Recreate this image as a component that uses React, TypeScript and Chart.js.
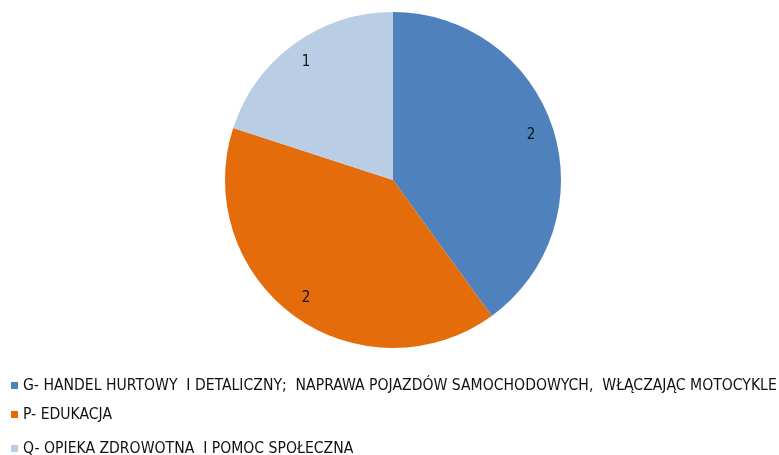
import React, { useEffect, useRef } from "react";
import { Chart, registerables } from "chart.js";

Chart.register(...registerables);

const categories = [
  "G- HANDEL HURTOWY  I DETALICZNY;  NAPRAWA POJAZDÓW SAMOCHODOWYCH,  WŁĄCZAJĄC MOTOCYKLE",
  "P- EDUKACJA",
  "Q- OPIEKA ZDROWOTNA  I POMOC SPOŁECZNA",
];
const values = [2, 2, 1];
const colors = ["#4F81BD", "#E46C0A", "#B9CDE5"];

const labelPlugin = {
  id: "sliceLabels",
  afterDatasetsDraw(chart: any) {
    const ctx = chart.ctx;
    const meta = chart.getDatasetMeta(0);
    ctx.save();
    ctx.font = "15px 'DejaVu Sans Condensed', sans-serif";
    ctx.fillStyle = "#111";
    ctx.textAlign = "center";
    ctx.textBaseline = "middle";
    meta.data.forEach((arc: any, i: number) => {
      const p = arc.getProps(["x", "y", "startAngle", "endAngle", "outerRadius"], true);
      const mid = (p.startAngle + p.endAngle) / 2;
      const r = p.outerRadius * 0.87;
      ctx.fillText(String(values[i]), p.x + Math.cos(mid) * r - 1, p.y + Math.sin(mid) * r);
    });
    ctx.restore();
  },
};

export default function App() {
  const ref = useRef<HTMLCanvasElement>(null);
  useEffect(() => {
    const chart = new Chart(ref.current!, {
      type: "pie",
      data: {
        labels: categories,
        datasets: [
          {
            data: values,
            backgroundColor: colors,
            borderWidth: 0,
          },
        ],
      },
      options: {
        animation: false,
        responsive: false,
        maintainAspectRatio: false,
        layout: { padding: { top: 12, bottom: 107, left: 225, right: 218 } },
        plugins: { legend: { display: false }, tooltip: { enabled: false } },
      },
      plugins: [labelPlugin],
    });
    return () => chart.destroy();
  }, []);

  return (
    <div style={{ position: "absolute", left: 0, top: 0, width: 779, height: 455, background: "#fff" }}>
      <canvas ref={ref} width={779} height={455} style={{ position: "absolute", left: 0, top: 0 }} />
      {categories.map((c, i) => (
        <div
          key={i}
          style={{
            position: "absolute",
            left: 11,
            top: [385, 414, 448][i] - 10,
            height: 20,
            display: "flex",
            alignItems: "center",
            whiteSpace: "pre",
            fontFamily: "'DejaVu Sans Condensed', sans-serif",
            fontSize: 15.6,
            color: "#111",
          }}
        >
          <span style={{ display: "inline-block", width: 7, height: 7, background: colors[i], marginRight: 5 }} />
          <span>{c}</span>
        </div>
      ))}
    </div>
  );
}
